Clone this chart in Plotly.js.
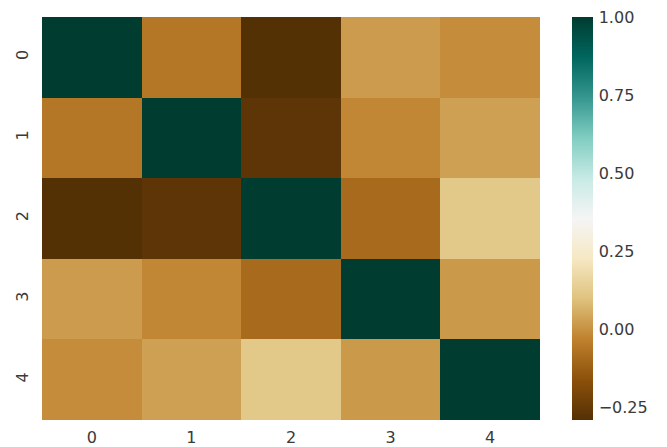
<!DOCTYPE html>
<html>
<head>
<meta charset="utf-8">
<script src="https://cdn.plot.ly/plotly-3.0.1.min.js"></script>
<style>html,body{margin:0;padding:0;background:#fff;}#chart{width:667px;height:447px;}</style>
</head>
<body>
<div id="chart"></div>
<script>
const xLabels = ["0", "1", "2", "3", "4"];
const yLabels = ["0", "1", "2", "3", "4"];
const row0 = [1.00, -0.06, -0.29, 0.02, -0.01];
const row1 = [-0.06, 1.00, -0.27, -0.02, 0.03];
const row2 = [-0.29, -0.27, 1.00, -0.09, 0.12];
const row3 = [0.02, -0.02, -0.09, 1.00, 0.015];
const row4 = [-0.01, 0.03, 0.12, 0.015, 1.00];
const zValues = [row0, row1, row2, row3, row4];
const brbg = ["#543005", "#8c510a", "#bf812d", "#dfc27d", "#f6e8c3", "#f5f5f5", "#c7eae5", "#80cdc1", "#35978f", "#01665e", "#003c30"];
const colorscale = brbg.map((c, i) => [i / (brbg.length - 1), c]);
const zMin = -0.29, zMax = 1.0;
const cbTicks = [-0.25, 0, 0.25, 0.5, 0.75, 1.0];

const trace = {
  type: "heatmap",
  x: xLabels,
  y: yLabels,
  z: zValues,
  zmin: zMin,
  zmax: zMax,
  colorscale: colorscale,
  xgap: 0, ygap: 0,
  colorbar: {
    x: 1.064, xanchor: "left",
    y: 0.5, yanchor: "middle",
    len: 1, lenmode: "fraction",
    thickness: 21,
    thicknessmode: "pixels",
    outlinewidth: 0,
    xpad: 0, ypad: 0,
    ticks: "outside", ticklen: 3, tickcolor: "rgba(0,0,0,0)",
    tickvals: cbTicks,
    tickformat: ".2f",
    tickfont: {family: "DejaVu Sans", size: 16, color: "#3a3a3a"}
  }
};

const layout = {
  width: 667, height: 447,
  margin: {l: 42, r: 127, t: 17, b: 27, pad: 0},
  paper_bgcolor: "#ffffff",
  plot_bgcolor: "#ffffff",
  xaxis: {
    type: "category",
    showgrid: false, zeroline: false, showline: false,
    ticks: "", ticklabelstandoff: 6,
    tickfont: {family: "DejaVu Sans", size: 16, color: "#3a3a3a"}
  },
  yaxis: {
    type: "category",
    autorange: "reversed",
    showgrid: false, zeroline: false, showline: false,
    ticks: "", tickangle: -90, ticklabelstandoff: 10,
    tickfont: {family: "DejaVu Sans", size: 16, color: "#3a3a3a"}
  }
};

Plotly.newPlot("chart", [trace], layout, {displayModeBar: false, staticPlot: true});
</script>
</body>
</html>
